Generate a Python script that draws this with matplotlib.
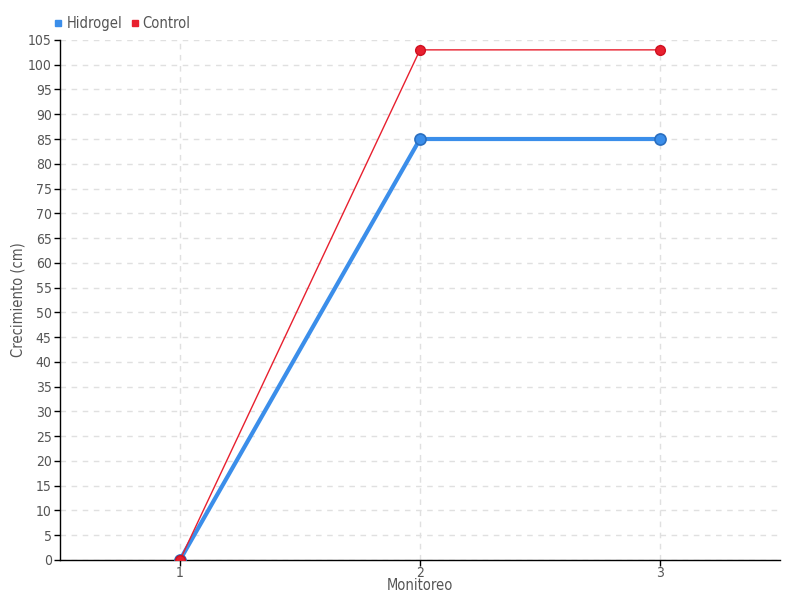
import matplotlib.pyplot as plt
from matplotlib.lines import Line2D

plt.rcParams['font.family'] = ['DejaVu Sans']
plt.rcParams['font.stretch'] = 'condensed'

monitoreo = [1, 2, 3]
hidrogel = [0, 85, 85]
control = [0, 103, 103]
yticks = list(range(0, 106, 5))

blue = '#3b8eea'
red = '#e8202f'
txt = '#555555'

fig = plt.figure(figsize=(8, 6), dpi=100)
ax = fig.add_axes([0.075, 0.0667, 0.9, 0.8667])

ax.plot(monitoreo, hidrogel, color=blue, lw=3, marker='o', ms=8,
        mfc=blue, mec='#2a6fc0', mew=1.2, zorder=3)
ax.plot(monitoreo, control, color=red, lw=1, marker='o', ms=7,
        mfc=red, mec='#d01020', zorder=4)

ax.set_xlim(0.5, 3.5)
ax.set_ylim(0, 105)
ax.set_xticks(monitoreo)
ax.set_yticks(yticks)
ax.tick_params(labelsize=10, length=4, width=1, color='black', labelcolor=txt)
ax.tick_params(axis='x', pad=0)
ax.tick_params(axis='y', pad=2)

ax.grid(True, color='#e0e0e0', ls=(0, (4, 4)), lw=1)
ax.set_axisbelow(True)
for s in ['top', 'right']:
    ax.spines[s].set_visible(False)
for s in ['left', 'bottom']:
    ax.spines[s].set_color('black')
    ax.spines[s].set_linewidth(1)

ax.set_xlabel('Monitoreo', color=txt, fontsize=10.5)
ax.set_ylabel('Crecimiento (cm)', color=txt, fontsize=10.5)
ax.xaxis.set_label_coords(0.5, -0.05, transform=ax.transAxes)
ax.yaxis.set_label_coords(-0.058, 0.5, transform=ax.transAxes)
ax.xaxis.label.set_va('center')
ax.yaxis.label.set_va('center')

handles = [Line2D([], [], ls='none', marker='s', ms=5, color=blue),
           Line2D([], [], ls='none', marker='s', ms=5, color=red)]
leg = fig.legend(handles, ['Hidrogel', 'Control'], loc='upper left',
                 bbox_to_anchor=(0.052, 0.995), ncol=2, frameon=False,
                 fontsize=10.5, handlelength=0.5, handletextpad=0.3,
                 columnspacing=0.6)
for t in leg.get_texts():
    t.set_color(txt)

fig.savefig('out.png', dpi=100)
